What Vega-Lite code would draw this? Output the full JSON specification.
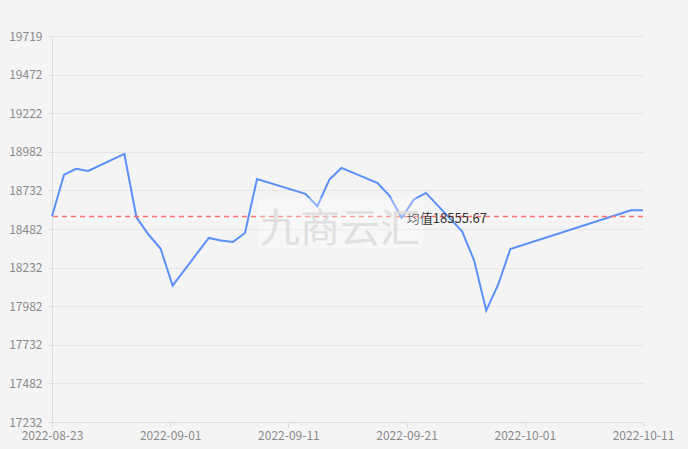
{
  "$schema": "https://vega.github.io/schema/vega-lite/v6.json",
  "width": 591,
  "height": 386,
  "autosize": {"type": "none"},
  "padding": {"left": 52, "top": 36, "right": 45, "bottom": 27},
  "background": "#f4f4f4",
  "config": {"view": {"stroke": null}, "font": "Noto Sans CJK SC"},
  "datasets": {
    "prices": [
      {"date": "2022-08-23", "price": 18558},
      {"date": "2022-08-24", "price": 18826},
      {"date": "2022-08-25", "price": 18863},
      {"date": "2022-08-26", "price": 18850},
      {"date": "2022-08-29", "price": 18959},
      {"date": "2022-08-30", "price": 18551},
      {"date": "2022-08-31", "price": 18440},
      {"date": "2022-09-01", "price": 18350},
      {"date": "2022-09-02", "price": 18111},
      {"date": "2022-09-05", "price": 18418},
      {"date": "2022-09-06", "price": 18401},
      {"date": "2022-09-07", "price": 18392},
      {"date": "2022-09-08", "price": 18450},
      {"date": "2022-09-09", "price": 18798},
      {"date": "2022-09-13", "price": 18702},
      {"date": "2022-09-14", "price": 18622},
      {"date": "2022-09-15", "price": 18794},
      {"date": "2022-09-16", "price": 18869},
      {"date": "2022-09-19", "price": 18772},
      {"date": "2022-09-20", "price": 18687},
      {"date": "2022-09-21", "price": 18547},
      {"date": "2022-09-22", "price": 18665},
      {"date": "2022-09-23", "price": 18708},
      {"date": "2022-09-26", "price": 18461},
      {"date": "2022-09-27", "price": 18272},
      {"date": "2022-09-28", "price": 17950},
      {"date": "2022-09-29", "price": 18118},
      {"date": "2022-09-30", "price": 18347},
      {"date": "2022-10-10", "price": 18596},
      {"date": "2022-10-11", "price": 18596}
    ],
    "avg": [{"mean": 18555.67, "label": "均值18555.67"}],
    "mark": [{"text": "九商云汇"}]
  },
  "layer": [
    {
      "data": {"name": "prices"},
      "mark": {"type": "line", "color": "#5B8FF9", "strokeWidth": 2},
      "encoding": {
        "x": {
          "field": "date",
          "type": "temporal",
          "scale": {"type": "utc", "domain": [1661212800000, 1665446400000]},
          "axis": {
            "title": null,
            "values": [1661212800000, 1662059520000, 1662906240000, 1663752960000, 1664599680000, 1665446400000],
            "tickCount": 20,
            "labelExpr": "utcFormat(datum.value, '%Y-%m-%d')",
            "grid": false,
            "domainColor": "#dcdcdc",
            "tickColor": "#dcdcdc",
            "tickSize": 5,
            "labelColor": "#8a8a8a",
            "labelFontSize": 12,
            "labelPadding": 3,
            "labelOverlap": false,
            "labelFlush": false,
            "labelBound": false
          }
        },
        "y": {
          "field": "price",
          "type": "quantitative",
          "scale": {"domain": [17232, 19719], "nice": false, "zero": false},
          "axis": {
            "title": null,
            "values": [17232, 17480.7, 17729.4, 17978.1, 18226.8, 18475.5, 18724.2, 18972.9, 19221.6, 19470.3, 19719],
            "tickCount": 30,
            "labelExpr": "['17232','17482','17732','17982','18232','18482','18732','18982','19222','19472','19719'][round((datum.value-17232)/248.7)]",
            "grid": true,
            "gridColor": "#e6e6e6",
            "domainColor": "#dcdcdc",
            "tickColor": "#dcdcdc",
            "tickSize": 4,
            "labelPadding": 6,
            "labelColor": "#8a8a8a",
            "labelFontSize": 12,
            "labelFlush": false,
            "labelOverlap": false,
            "labelBound": false
          }
        }
      }
    },
    {
      "data": {"name": "avg"},
      "mark": {"type": "rule", "color": "#FF6F6F", "strokeDash": [5, 4], "strokeWidth": 1.5},
      "encoding": {"y": {"field": "mean", "type": "quantitative"}}
    },
    {
      "data": {"name": "avg"},
      "mark": {"type": "text", "align": "left", "baseline": "middle", "dy": 2, "fontSize": 13, "color": "#333333"},
      "encoding": {
        "x": {"datum": {"year": 2022, "month": 9, "date": 21, "hours": 10, "utc": true}, "type": "temporal"},
        "y": {"field": "mean", "type": "quantitative"},
        "text": {"field": "label"}
      }
    },
    {
      "data": {"name": "mark"},
      "mark": {"type": "rect", "color": "#ffffff", "opacity": 0.3},
      "encoding": {
        "x": {"datum": {"year": 2022, "month": 9, "date": 9, "hours": 2, "utc": true}, "type": "temporal"},
        "x2": {"datum": {"year": 2022, "month": 9, "date": 22, "hours": 18, "utc": true}},
        "y": {"datum": 18675, "type": "quantitative"},
        "y2": {"datum": 18353}
      }
    },
    {
      "data": {"name": "mark"},
      "mark": {"type": "text", "align": "center", "baseline": "middle", "fontSize": 40, "color": "#dcdcdc", "opacity": 0.85},
      "encoding": {
        "x": {"datum": {"year": 2022, "month": 9, "date": 15, "hours": 21, "utc": true}, "type": "temporal"},
        "y": {"datum": 18469, "type": "quantitative"},
        "text": {"field": "text"}
      }
    }
  ]
}
